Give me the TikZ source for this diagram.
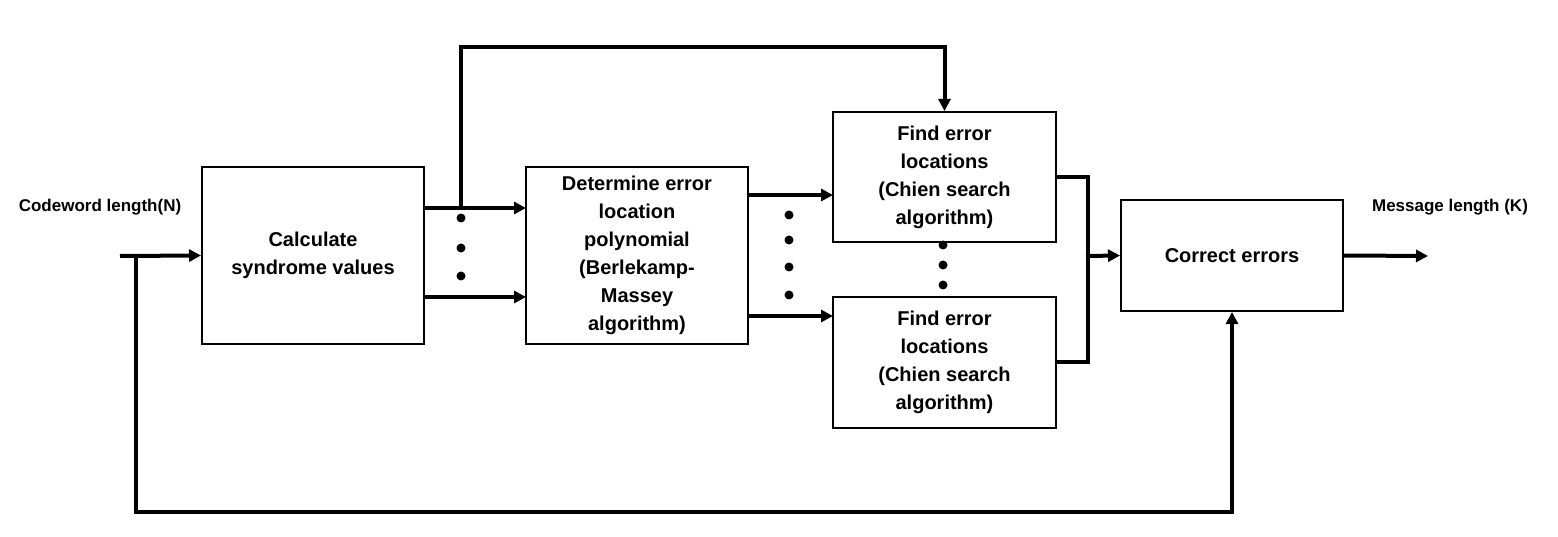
\documentclass[tikz,border=0pt]{standalone}
\usepackage{fontspec}
\setmainfont{Liberation Sans}
\usetikzlibrary{arrows.meta}
\begin{document}
\begin{tikzpicture}[x=1pt,y=-1pt,
  blk/.style={draw,line width=2pt,align=center,font=\bfseries\fontsize{20}{28}\selectfont},
  ln/.style={line width=4pt},
  arr/.style={line width=4pt,-{Triangle[length=12pt,width=12pt]}},
  dot/.style={circle,fill,inner sep=0pt,minimum size=9pt},
  lbl/.style={font=\bfseries\fontsize{17}{20}\selectfont}]
\useasboundingbox (0,0) rectangle (1558,537);
\node[blk,minimum width=222pt,minimum height=177pt] (calc) at (313,255.5) {Calculate\\syndrome values};
\node[blk,minimum width=222pt,minimum height=177pt] (det) at (637,255.5) {Determine error\\location\\polynomial\\(Berlekamp-\\Massey\\algorithm)};
\node[blk,minimum width=223pt,minimum height=130pt] (f1) at (944.5,177) {Find error\\locations\\(Chien search\\algorithm)};
\node[blk,minimum width=223pt,minimum height=131pt] (f2) at (944.5,362.5) {Find error\\locations\\(Chien search\\algorithm)};
\node[blk,minimum width=222pt,minimum height=111pt] (cor) at (1232,255.5) {Correct errors};
\node[lbl] (inl) at (100,207) {Codeword length(N)};
\node[lbl] (outl) at (1450,207) {Message length (K)};
\coordinate (in) at (120,256);
\coordinate (out) at (1428,256);
\draw[arr] (in) -- (calc.west);
\draw[arr] (136,256) -- (136,512) -| (cor.south);
\draw[arr] (424,208) -- (526,208);
\draw[arr] (424,297) -- (526,297);
\draw[arr] (461,208) -- (461,47) -| (f1.north);
\draw[arr] (748,195) -- (833,195);
\draw[arr] (748,316) -- (833,316);
\draw[ln] (1056,177) -- (1088,177) -- (1088,362) -- (1056,362);
\draw[arr] (1086,256) -- (cor.west);
\draw[arr] (cor.east) -- (out);
\foreach \y in {218,248,276} \node[dot] at (461,\y) {};
\foreach \y in {215,240,267,295} \node[dot] at (789,\y) {};
\foreach \y in {245,265,285} \node[dot] at (943,\y) {};
\end{tikzpicture}
\end{document}
